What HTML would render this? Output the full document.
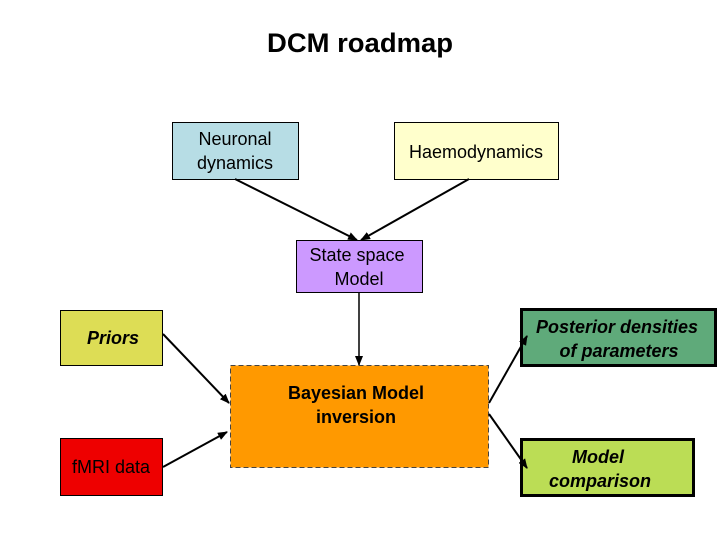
<!DOCTYPE html>
<html><head><meta charset="utf-8"><style>
html,body{margin:0;padding:0;background:#fff;}
svg{display:block;font-family:"Liberation Sans",Arial,sans-serif;}
</style></head><body>
<svg width="720" height="540" viewBox="0 0 720 540" xmlns="http://www.w3.org/2000/svg">
<defs>
<marker id="a" markerWidth="10" markerHeight="8" refX="9" refY="4" orient="auto" markerUnits="userSpaceOnUse">
<path d="M0,0 L10,4 L0,8 z" fill="#000"/></marker>
</defs>
<text x="360" y="52" text-anchor="middle" font-size="27" font-weight="bold" textLength="186" lengthAdjust="spacingAndGlyphs">DCM roadmap</text>

<rect x="172.5" y="122.5" width="126" height="57" fill="#b7dde5" stroke="#000"/>
<text x="235" y="145" text-anchor="middle" font-size="18">Neuronal</text>
<text x="235" y="169" text-anchor="middle" font-size="18">dynamics</text>

<rect x="394.5" y="122.5" width="164" height="57" fill="#ffffcc" stroke="#000"/>
<text x="476" y="158" text-anchor="middle" font-size="18">Haemodynamics</text>

<rect x="296.5" y="240.5" width="126" height="52" fill="#cc99ff" stroke="#000"/>
<text x="357" y="261" text-anchor="middle" font-size="18">State space</text>
<text x="359" y="285" text-anchor="middle" font-size="18">Model</text>

<rect x="60.5" y="310.5" width="102" height="55" fill="#dddd55" stroke="#000"/>
<text x="113" y="344" text-anchor="middle" font-size="18" font-weight="bold" font-style="italic">Priors</text>

<rect x="60.5" y="438.5" width="102" height="57" fill="#ee0000" stroke="#000"/>
<text x="111" y="473" text-anchor="middle" font-size="18">fMRI data</text>

<rect x="230.5" y="365.5" width="258" height="102" fill="#ff9900" stroke="#444" stroke-dasharray="5,3"/>
<text x="356" y="399" text-anchor="middle" font-size="18" font-weight="bold">Bayesian Model</text>
<text x="356" y="423" text-anchor="middle" font-size="18" font-weight="bold">inversion</text>

<rect x="521.5" y="309.5" width="194" height="56" fill="#5faa7a" stroke="#000" stroke-width="3"/>
<text x="617" y="333" text-anchor="middle" font-size="18" font-weight="bold" font-style="italic">Posterior densities</text>
<text x="619" y="357" text-anchor="middle" font-size="18" font-weight="bold" font-style="italic">of parameters</text>

<rect x="521.5" y="439.5" width="172" height="56" fill="#bbdd55" stroke="#000" stroke-width="3"/>
<text x="598" y="463" text-anchor="middle" font-size="18" font-weight="bold" font-style="italic">Model</text>
<text x="600" y="487" text-anchor="middle" font-size="18" font-weight="bold" font-style="italic">comparison</text>

<g stroke="#000" stroke-width="2" fill="none">
<line x1="235" y1="179" x2="357" y2="240" marker-end="url(#a)"/>
<line x1="469" y1="179" x2="361" y2="240" marker-end="url(#a)"/>
<line x1="359" y1="292" x2="359" y2="365" marker-end="url(#a)" stroke-width="1.5"/>
<line x1="163" y1="334" x2="229" y2="403" marker-end="url(#a)"/>
<line x1="163" y1="467" x2="227" y2="432" marker-end="url(#a)"/>
<line x1="489" y1="403" x2="527" y2="336" marker-end="url(#a)"/>
<line x1="489" y1="414" x2="527" y2="468" marker-end="url(#a)"/>
</g>
</svg>
</body></html>
